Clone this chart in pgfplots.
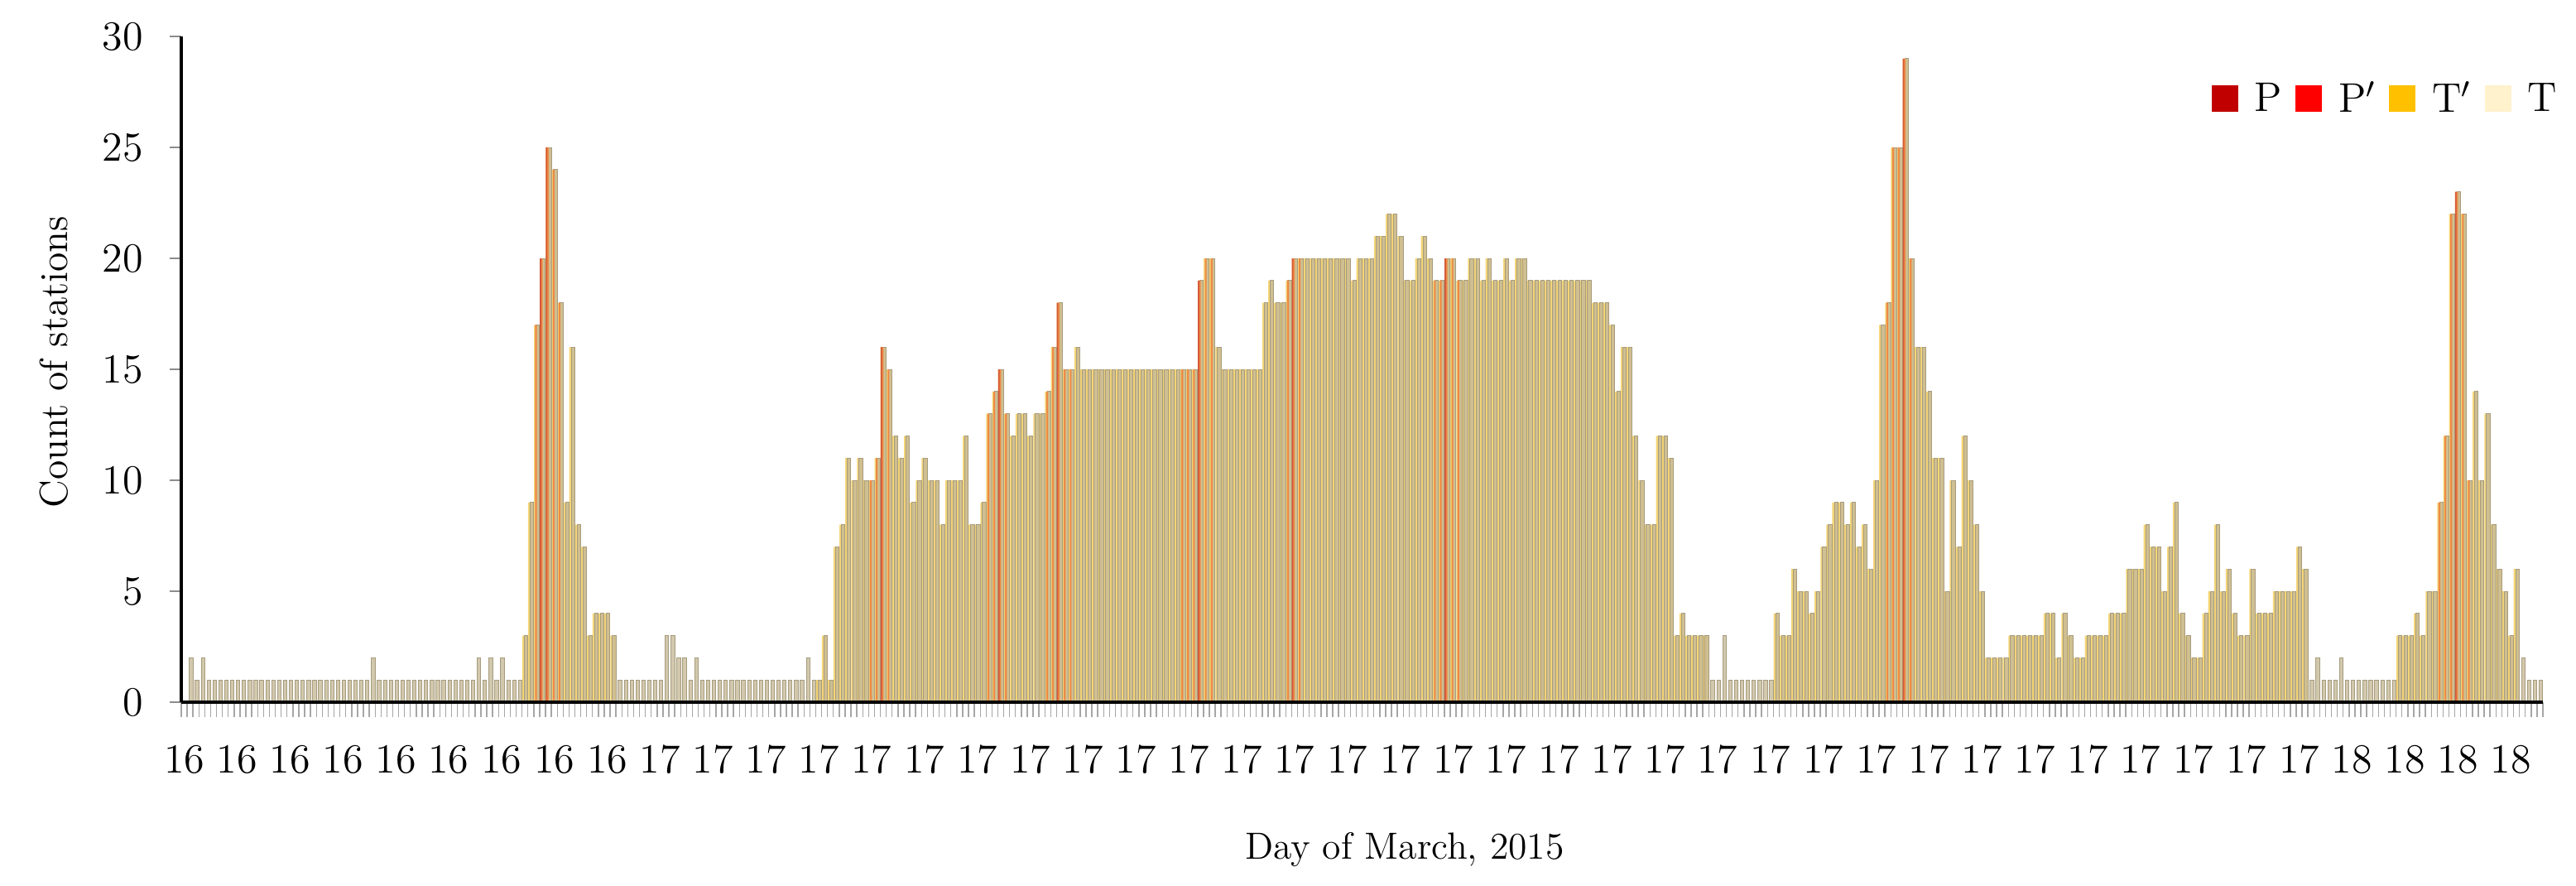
\documentclass[border=0pt]{standalone}
\usepackage{pgfplots}
\pgfplotsset{compat=1.18}
\definecolor{cP}{HTML}{C00000}
\definecolor{cPp}{HTML}{FF0000}
\definecolor{cTp}{HTML}{FFC000}
\definecolor{cT}{HTML}{FFF2CC}
\definecolor{pvis}{HTML}{D45A3A}
\definecolor{ppvis}{HTML}{EE8A45}
\definecolor{tpvis}{HTML}{F4D577}
\definecolor{tvis}{HTML}{C6BA98}
\definecolor{tdraw}{HTML}{A89C7E}
\begin{document}
\begin{tikzpicture}
\begin{axis}[
  name=ax, at={(0,0)}, anchor=south west,
  scale only axis, width=713.25bp, height=201bp,
  xmin=-0.5, xmax=401.5, ymin=0, ymax=30,
  axis x line*=bottom, axis y line*=left,
  axis line style={line width=1bp, -},
  axis on top,
  xtick={0,9,...,396},
  xticklabels={16,16,16,16,16,16,16,16,16,
    17,17,17,17,17,17,17,17,17,17,17,17,17,17,17,17,
    17,17,17,17,17,17,17,17,17,17,17,17,17,17,17,17,
    18,18,18,18},
  minor xtick={-0.5,0.5,...,401.5},
  ytick={0,5,...,30},
  tick align=outside,
  major tick length=3.5bp, minor tick length=4.5bp,
  major x tick style={draw=none},
  minor x tick style={draw=black!35, line width=0.35bp},
  y tick style={draw=black!45, line width=0.5bp},
  tick label style={font=\fontsize{12.5bp}{14bp}\selectfont},
  /pgf/number format/assume math mode=true,
  xticklabel style={yshift=-6bp},
  yticklabel style={xshift=-4.5bp},
  xlabel={Day of March, 2015},
  ylabel={Count of stations},
  xlabel style={at={(axis description cs:0.518,-0.221)}, anchor=center,
    font=\fontsize{11.4bp}{14bp}\selectfont},
  ylabel style={at={(axis description cs:-0.054,0.511)}, anchor=center,
    font=\fontsize{11.9bp}{14bp}\selectfont},
  legend style={at={(axis description cs:1.009,0.943)}, anchor=north east,
    draw=none, fill=none, legend columns=4, inner sep=0pt,
    font=\fontsize{12.5bp}{14bp}\selectfont,
    /tikz/every odd column/.append style={column sep=3bp},
    /tikz/every even column/.append style={column sep=2bp}},
  legend image code/.code={\fill[#1, draw=none] (0bp,-3.6bp) rectangle (8bp,4.4bp);},
]
% T' (drawn first, full slot, underneath)
\addplot[ybar, forget plot, bar width=0.95, bar shift=0, fill=tpvis, draw=none]
coordinates {(58,3) (59,9)
(60,17) (61,20) (62,25) (63,24) (64,18) (65,9) (66,16) (67,8) (68,7) (69,3)
(70,4) (71,4) (72,4) (73,3)
(108,1) (109,3)
(110,1) (111,7) (112,8) (113,11) (114,10) (115,11) (116,10) (117,10) (118,11) (119,16)
(120,15) (121,12) (122,11) (123,12) (124,9) (125,10) (126,11) (127,10) (128,10) (129,8)
(130,10) (131,10) (132,10) (133,12) (134,8) (135,8) (136,9) (137,13) (138,14) (139,15)
(140,13) (141,12) (142,13) (143,13) (144,12) (145,13) (146,13) (147,14) (148,16) (149,18)
(150,15) (151,15) (152,16) (153,15) (154,15) (155,15) (156,15) (157,15) (158,15) (159,15)
(160,15) (161,15) (162,15) (163,15) (164,15) (165,15) (166,15) (167,15) (168,15) (169,15)
(170,15) (171,15) (172,15) (173,19) (174,20) (175,20) (176,16) (177,15) (178,15) (179,15)
(180,15) (181,15) (182,15) (183,15) (184,18) (185,19) (186,18) (187,18) (188,19) (189,20)
(190,20) (191,20) (192,20) (193,20) (194,20) (195,20) (196,20) (197,20) (198,20) (199,19)
(200,20) (201,20) (202,20) (203,21) (204,21) (205,22) (206,22) (207,21) (208,19) (209,19)
(210,20) (211,21) (212,20) (213,19) (214,19) (215,20) (216,20) (217,19) (218,19) (219,20)
(220,20) (221,19) (222,20) (223,19) (224,19) (225,20) (226,19) (227,20) (228,20) (229,19)
(230,19) (231,19) (232,19) (233,19) (234,19) (235,19) (236,19) (237,19) (238,19) (239,19)
(240,18) (241,18) (242,18) (243,17) (244,14) (245,16) (246,16) (247,12) (248,10) (249,8)
(250,8) (251,12) (252,12) (253,11) (254,3) (255,4) (256,3) (257,3) (258,3) (259,3)
(271,4) (272,3) (273,3) (274,6) (275,5) (276,5) (277,4) (278,5) (279,7)
(280,8) (281,9) (282,9) (283,8) (284,9) (285,7) (286,8) (287,6) (288,10) (289,17)
(290,18) (291,25) (292,25) (293,29) (294,20) (295,16) (296,16) (297,14) (298,11) (299,11)
(300,5) (301,10) (302,7) (303,12) (304,10) (305,8) (306,5) (307,2) (308,2) (309,2)
(310,2) (311,3) (312,3) (313,3) (314,3) (315,3) (316,3) (317,4) (318,4) (319,2)
(320,4) (321,3) (322,2) (323,2) (324,3) (325,3) (326,3) (327,3) (328,4) (329,4)
(330,4) (331,6) (332,6) (333,6) (334,8) (335,7) (336,7) (337,5) (338,7) (339,9)
(340,4) (341,3) (342,2) (343,2) (344,4) (345,5) (346,8) (347,5) (348,6) (349,4)
(350,3) (351,3) (352,6) (353,4) (354,4) (355,4) (356,5) (357,5) (358,5) (359,5)
(360,7) (361,6)
(377,3) (378,3) (379,3)
(380,4) (381,3) (382,5) (383,5) (384,9) (385,12) (386,22) (387,23) (388,22) (389,10)
(390,14) (391,10) (392,13) (393,8) (394,6) (395,5) (396,3) (397,6)};
% T
\addplot[ybar, forget plot, bar width=0.6, bar shift=0.17, fill=tvis, fill opacity=0.8, draw=tdraw, line width=0.2bp]
coordinates {(1,2) (2,1) (3,2) (4,1) (5,1) (6,1) (7,1) (8,1) (9,1)
(10,1) (11,1) (12,1) (13,1) (14,1) (15,1) (16,1) (17,1) (18,1) (19,1)
(20,1) (21,1) (22,1) (23,1) (24,1) (25,1) (26,1) (27,1) (28,1) (29,1)
(30,1) (31,1) (32,2) (33,1) (34,1) (35,1) (36,1) (37,1) (38,1) (39,1)
(40,1) (41,1) (42,1) (43,1) (44,1) (45,1) (46,1) (47,1) (48,1) (49,1)
(50,2) (51,1) (52,2) (53,1) (54,2) (55,1) (56,1) (57,1) (58,3) (59,9)
(60,17) (61,20) (62,25) (63,24) (64,18) (65,9) (66,16) (67,8) (68,7) (69,3)
(70,4) (71,4) (72,4) (73,3) (74,1) (75,1) (76,1) (77,1) (78,1) (79,1)
(80,1) (81,1) (82,3) (83,3) (84,2) (85,2) (86,1) (87,2) (88,1) (89,1)
(90,1) (91,1) (92,1) (93,1) (94,1) (95,1) (96,1) (97,1) (98,1) (99,1)
(100,1) (101,1) (102,1) (103,1) (104,1) (105,1) (106,2) (107,1) (108,1) (109,3)
(110,1) (111,7) (112,8) (113,11) (114,10) (115,11) (116,10) (117,10) (118,11) (119,16)
(120,15) (121,12) (122,11) (123,12) (124,9) (125,10) (126,11) (127,10) (128,10) (129,8)
(130,10) (131,10) (132,10) (133,12) (134,8) (135,8) (136,9) (137,13) (138,14) (139,15)
(140,13) (141,12) (142,13) (143,13) (144,12) (145,13) (146,13) (147,14) (148,16) (149,18)
(150,15) (151,15) (152,16) (153,15) (154,15) (155,15) (156,15) (157,15) (158,15) (159,15)
(160,15) (161,15) (162,15) (163,15) (164,15) (165,15) (166,15) (167,15) (168,15) (169,15)
(170,15) (171,15) (172,15) (173,19) (174,20) (175,20) (176,16) (177,15) (178,15) (179,15)
(180,15) (181,15) (182,15) (183,15) (184,18) (185,19) (186,18) (187,18) (188,19) (189,20)
(190,20) (191,20) (192,20) (193,20) (194,20) (195,20) (196,20) (197,20) (198,20) (199,19)
(200,20) (201,20) (202,20) (203,21) (204,21) (205,22) (206,22) (207,21) (208,19) (209,19)
(210,20) (211,21) (212,20) (213,19) (214,19) (215,20) (216,20) (217,19) (218,19) (219,20)
(220,20) (221,19) (222,20) (223,19) (224,19) (225,20) (226,19) (227,20) (228,20) (229,19)
(230,19) (231,19) (232,19) (233,19) (234,19) (235,19) (236,19) (237,19) (238,19) (239,19)
(240,18) (241,18) (242,18) (243,17) (244,14) (245,16) (246,16) (247,12) (248,10) (249,8)
(250,8) (251,12) (252,12) (253,11) (254,3) (255,4) (256,3) (257,3) (258,3) (259,3)
(260,1) (261,1) (262,3) (263,1) (264,1) (265,1) (266,1) (267,1) (268,1) (269,1)
(270,1) (271,4) (272,3) (273,3) (274,6) (275,5) (276,5) (277,4) (278,5) (279,7)
(280,8) (281,9) (282,9) (283,8) (284,9) (285,7) (286,8) (287,6) (288,10) (289,17)
(290,18) (291,25) (292,25) (293,29) (294,20) (295,16) (296,16) (297,14) (298,11) (299,11)
(300,5) (301,10) (302,7) (303,12) (304,10) (305,8) (306,5) (307,2) (308,2) (309,2)
(310,2) (311,3) (312,3) (313,3) (314,3) (315,3) (316,3) (317,4) (318,4) (319,2)
(320,4) (321,3) (322,2) (323,2) (324,3) (325,3) (326,3) (327,3) (328,4) (329,4)
(330,4) (331,6) (332,6) (333,6) (334,8) (335,7) (336,7) (337,5) (338,7) (339,9)
(340,4) (341,3) (342,2) (343,2) (344,4) (345,5) (346,8) (347,5) (348,6) (349,4)
(350,3) (351,3) (352,6) (353,4) (354,4) (355,4) (356,5) (357,5) (358,5) (359,5)
(360,7) (361,6) (362,1) (363,2) (364,1) (365,1) (366,1) (367,2) (368,1) (369,1)
(370,1) (371,1) (372,1) (373,1) (374,1) (375,1) (376,1) (377,3) (378,3) (379,3)
(380,4) (381,3) (382,5) (383,5) (384,9) (385,12) (386,22) (387,23) (388,22) (389,10)
(390,14) (391,10) (392,13) (393,8) (394,6) (395,5) (396,3) (397,6) (398,2) (399,1)
(400,1) (401,1)};
% P'
\addplot[ybar, forget plot, bar width=0.3, bar shift=-0.12, fill=ppvis, draw=none]
coordinates {(60,17) (61,20) (62,25) (63,24) (64,18)
(117,10) (118,11) (119,16) (120,15)
(137,13) (138,14) (139,15) (140,13)
(147,14) (148,16) (149,18) (150,15) (151,15)
(170,15) (171,15) (172,15) (173,19) (174,20) (175,20)
(188,19) (189,20) (190,20)
(213,19) (214,19) (215,20) (216,20) (217,19)
(290,18) (291,25) (292,25) (293,29) (294,20)
(384,9) (385,12) (386,22) (387,23) (388,22) (389,10)};
% P
\addplot[ybar, forget plot, bar width=0.25, bar shift=-0.34, fill=pvis, draw=none]
coordinates {(61,20) (62,25) (119,16) (139,15) (149,18) (173,19) (189,20) (215,20) (293,29) (387,23)};
% legend
\addlegendimage{fill=cP}
\addlegendentry{P}
\addlegendimage{fill=cPp}
\addlegendentry{P$'$}
\addlegendimage{fill=cTp}
\addlegendentry{T$'$}
\addlegendimage{fill=cT}
\addlegendentry{T}
\end{axis}
\pgfresetboundingbox
\path[use as bounding box] (-54.75bp,-55.5bp) rectangle (723.25bp,212bp);
\end{tikzpicture}
\end{document}
